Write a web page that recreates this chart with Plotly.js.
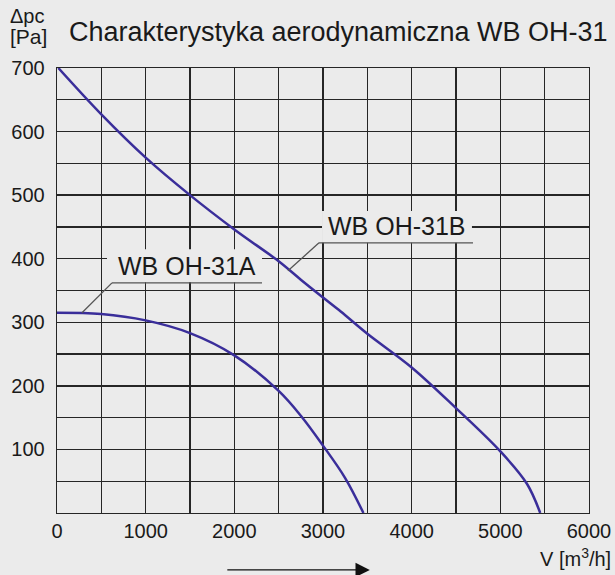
<!DOCTYPE html>
<html>
<head>
<meta charset="utf-8">
<script src="https://cdn.plot.ly/plotly-3.0.1.min.js"></script>
<style>html,body{margin:0;padding:0;background:#ebebeb;}</style>
</head>
<body>
<div id="chart" style="width:615px;height:575px;"></div>
<script>
// Data
const seriesNames = ["WB OH-31A", "WB OH-31B"];
const flowA = [0, 500, 1000, 1500, 2000, 2500, 2750, 3000, 3250, 3456];
const pressA = [315, 313, 303, 283, 248, 192, 153, 106, 55, 0];
const flowB = [15, 500, 1000, 1500, 2000, 2500, 2750, 3000, 3200, 3500, 4000, 4500, 5000, 5300, 5450];
const pressB = [700, 627, 559, 500, 446, 396, 367, 339, 317, 282, 229, 165, 97, 46, 0];
const xTicks = [0, 1000, 2000, 3000, 4000, 5000, 6000];
const yTicks = [100, 200, 300, 400, 500, 600, 700];

const curveColor = '#3a2e9a';
const bg = '#ebebeb';
const gridC = '#262626';
const txt = '#1a1a1a';
const font = 'Liberation Sans, Arial, sans-serif';

const traces = [
  {x: flowA, y: pressA, mode: 'lines', line: {color: curveColor, width: 2.5, shape: 'spline', smoothing: 1}, name: seriesNames[0], hoverinfo: 'skip'},
  {x: flowB, y: pressB, mode: 'lines', line: {color: curveColor, width: 2.5, shape: 'spline', smoothing: 1}, name: seriesNames[1], hoverinfo: 'skip'}
];

const layout = {
  width: 615, height: 575,
  margin: {l: 57, r: 26, t: 68, b: 62},
  paper_bgcolor: bg, plot_bgcolor: bg,
  showlegend: false,
  font: {family: font, color: txt},
  title: {text: 'Charakterystyka aerodynamiczna WB OH-31', font: {size: 27, family: font, color: txt},
          x: 0.550, xanchor: 'center', xref: 'container', y: 0.946, yanchor: 'middle', yref: 'container'},
  xaxis: {range: [0, 6000], tickvals: xTicks, ticktext: xTicks.map(String), showgrid: true, gridcolor: gridC, gridwidth: 1.3,
          minor: {dtick: 500, showgrid: true, gridcolor: gridC, gridwidth: 1.3}, zeroline: false,
          showline: true, mirror: true, linecolor: gridC, linewidth: 1.3, ticks: '', ticklabelstandoff: 0,
          tickfont: {size: 20, family: font, color: txt}, fixedrange: true},
  yaxis: {range: [0, 700], tickvals: yTicks, ticktext: yTicks.map(String), showgrid: true, gridcolor: gridC, gridwidth: 1.3,
          minor: {dtick: 50, showgrid: true, gridcolor: gridC, gridwidth: 1.3}, zeroline: false,
          showline: true, mirror: true, linecolor: gridC, linewidth: 1.3, ticks: '', ticklabelstandoff: 7,
          tickfont: {size: 20, family: font, color: txt}, fixedrange: true},
  shapes: [
    // label backgrounds hiding grid lines
    {type: 'rect', xref: 'x', yref: 'y', x0: 564, x1: 2312, y0: 363, y1: 415, fillcolor: bg, line: {width: 0}, layer: 'between'},
    {type: 'rect', xref: 'x', yref: 'y', x0: 2989, x1: 4680, y0: 425, y1: 475, fillcolor: bg, line: {width: 0}, layer: 'between'},
    // underlines and leaders
    {type: 'line', xref: 'x', yref: 'y', x0: 620, x1: 2312, y0: 362, y1: 362, line: {color: '#555', width: 1.3}},
    {type: 'line', xref: 'x', yref: 'y', x0: 620, x1: 282, y0: 362, y1: 315, line: {color: '#555', width: 1.3}},
    {type: 'line', xref: 'x', yref: 'y', x0: 2955, x1: 4692, y0: 425, y1: 425, line: {color: '#555', width: 1.3}},
    {type: 'line', xref: 'x', yref: 'y', x0: 2955, x1: 2605, y0: 425, y1: 381, line: {color: '#555', width: 1.3}}
  ],
  annotations: [
    {text: seriesNames[0], xref: 'x', yref: 'y', x: 1470, y: 363, xanchor: 'center', yanchor: 'bottom', showarrow: false,
     font: {size: 25, family: font, color: txt}},
    {text: seriesNames[1], xref: 'x', yref: 'y', x: 3835, y: 426, xanchor: 'center', yanchor: 'bottom', showarrow: false,
     font: {size: 25, family: font, color: txt}},
    {text: 'Δpc', xref: 'paper', yref: 'paper', x: -0.092, y: 1.117, xanchor: 'left', yanchor: 'middle', showarrow: false,
     font: {size: 20, family: font, color: txt}},
    {text: '[Pa]', xref: 'paper', yref: 'paper', x: -0.092, y: 1.070, xanchor: 'left', yanchor: 'middle', showarrow: false,
     font: {size: 21, family: font, color: txt}},
    {text: 'V [m<sup>3</sup>/h]', xref: 'paper', yref: 'paper', x: 1.045, y: -0.100, xanchor: 'right', yanchor: 'middle', showarrow: false,
     font: {size: 20, family: font, color: txt}},
    {text: '', xref: 'paper', yref: 'paper', x: 0.588, y: -0.128, ax: -144, ay: 0, showarrow: true,
     arrowhead: 2, arrowsize: 2.2, arrowwidth: 1.3, arrowcolor: '#111'}
  ]
};

Plotly.newPlot('chart', traces, layout, {staticPlot: true, displayModeBar: false});
</script>
</body>
</html>
